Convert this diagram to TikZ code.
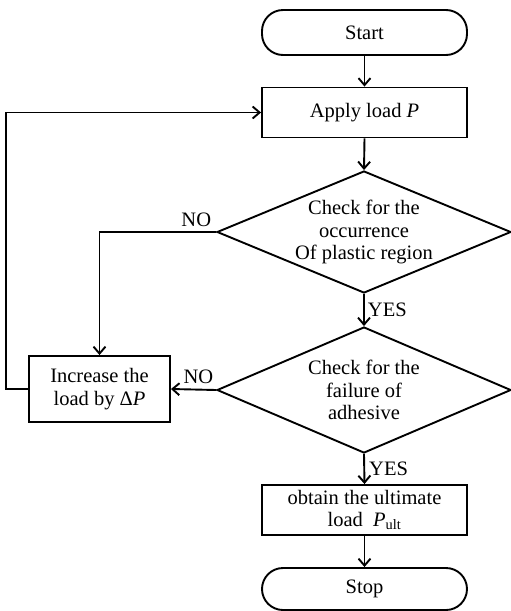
\documentclass[tikz,border=0pt]{standalone}
\usepackage{fontspec}
\setmainfont{Liberation Serif}
\usetikzlibrary{shapes.geometric,arrows.meta}
\begin{document}
\begin{tikzpicture}[x=1pt,y=-1pt,
  every node/.style={font=\fontsize{20.5}{22.5}\selectfont},
  proc/.style={draw, line width=1.9pt, rectangle, minimum width=205pt, minimum height=50pt, inner sep=0pt, align=center},
  term/.style={draw, line width=1.9pt, rectangle, rounded corners=21pt, minimum width=205pt, inner sep=0pt},
  dec/.style={draw, line width=1.9pt, diamond, aspect=2.4, minimum width=294pt, inner sep=0pt, align=center},
  arr/.style={line width=1.9pt, -{Straight Barb[length=7pt,width=12pt]}},
  lbl/.style={inner sep=0pt}]
\useasboundingbox (0,0) rectangle (511,611);
\node[term, minimum height=45pt] (start) at (364.5,32.5) {Start};
\node[proc] (apply) at (364.5,112.5) {Apply load \textit{P}};
\node[dec, minimum height=122pt] (d1) at (364,232) {Check for the\\occurrence\\Of plastic region};
\node[dec, minimum height=126pt] (d2) at (364,390) {Check for the\\failure of\\adhesive};
\node[proc, minimum width=141pt, minimum height=66pt] (incr) at (99.5,389) {Increase the\\load by Δ\textit{P}};
\node[proc] (obtain) at (364.5,510) {obtain the ultimate\\load~~\textit{P}\textsubscript{ult}};
\node[term, minimum height=42pt] (stop) at (364.5,589) {Stop};

\draw[arr] (start.south) -- (apply.north);
\draw[arr] (apply.south) -- (d1.north);
\draw[arr] (d1.south) -- node[lbl, anchor=west, xshift=3pt] (yes1) {YES} (d2.north);
\draw[arr] (d2.south) -- node[lbl, anchor=west, xshift=4pt] (yes2) {YES} (obtain.north);
\draw[arr] (obtain.south) -- (stop.north);
\draw[arr] (d1.west) -| node[lbl, at start, anchor=south east, xshift=-4pt, yshift=4pt] (no1) {NO} (incr.north);
\draw[arr] (d2.west) -- node[lbl, anchor=south, yshift=5pt, xshift=5pt] (no2) {NO} (incr.east);
\draw[arr] (incr.west) -- ++(-22,0) |- (apply.west);
\end{tikzpicture}
\end{document}
